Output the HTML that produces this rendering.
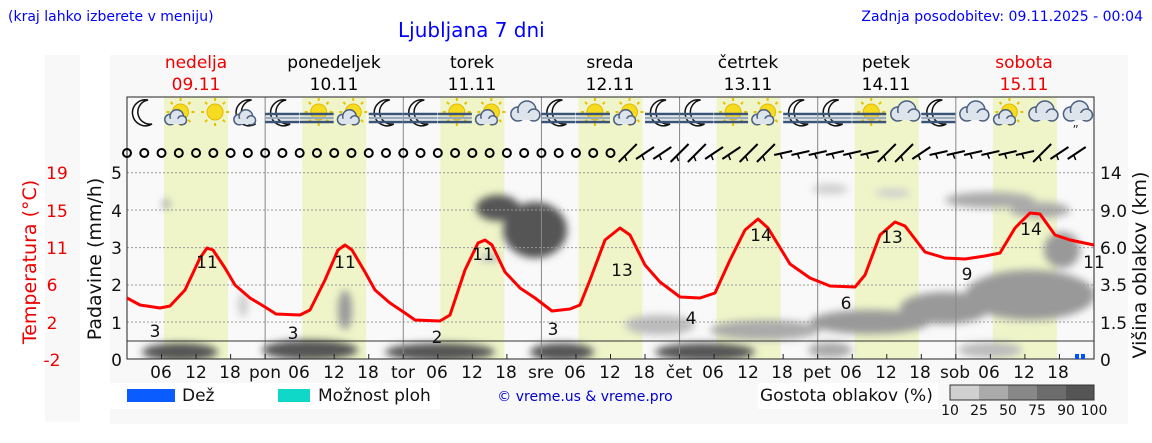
<!DOCTYPE html>
<html><head><meta charset="utf-8"><style>
html,body{margin:0;padding:0;background:#fff;}
svg{display:block;font-family:"DejaVu Sans","Liberation Sans",sans-serif;}
</style></head><body>
<svg id="s" width="1152" height="443" viewBox="0 0 1152 443" xmlns="http://www.w3.org/2000/svg">
<defs>
<filter id="b" x="-50%" y="-50%" width="200%" height="200%"><feGaussianBlur stdDeviation="4"/></filter>
<clipPath id="pc"><rect x="127" y="170" width="967" height="189"/></clipPath>
</defs>
<rect x="45" y="55" width="35" height="367" fill="#f8f8f8"/>
<rect x="110" y="55" width="1018" height="369" fill="#f8f8f8"/>
<rect x="127" y="97" width="967" height="262" fill="#f9f9f9"/>
<g id="bands" fill="#eff5c9"></g>
<g id="clouds" clip-path="url(#pc)">
 <g filter="url(#b)" fill="#555">
  <ellipse cx="180" cy="352" rx="38" ry="9"/>
  <ellipse cx="310" cy="350" rx="48" ry="10"/>
  <ellipse cx="440" cy="352" rx="55" ry="9"/>
  <ellipse cx="562" cy="352" rx="32" ry="9"/>
  <ellipse cx="705" cy="352" rx="50" ry="9"/>
  <ellipse cx="535" cy="230" rx="32" ry="28"/>
  <ellipse cx="498" cy="208" rx="22" ry="13"/>
  <ellipse cx="490" cy="258" rx="10" ry="4" fill="#bbb"/>
 </g>
 <g filter="url(#b)" fill="#999">
  <ellipse cx="660" cy="325" rx="35" ry="10" fill="#bbb"/>
  <ellipse cx="765" cy="330" rx="55" ry="10" fill="#aaa"/>
  <ellipse cx="870" cy="322" rx="60" ry="12"/>
  <ellipse cx="945" cy="308" rx="45" ry="16"/>
  <ellipse cx="1030" cy="295" rx="65" ry="25"/>
  <ellipse cx="1062" cy="250" rx="18" ry="18"/>
  <ellipse cx="1040" cy="210" rx="30" ry="8" fill="#aaa"/>
  <ellipse cx="990" cy="200" rx="45" ry="8" fill="#aaa"/>
  <ellipse cx="830" cy="189" rx="18" ry="5" fill="#ccc"/>
  <ellipse cx="893" cy="193" rx="18" ry="4" fill="#ccc"/>
  <ellipse cx="990" cy="350" rx="32" ry="8" fill="#bbb"/>
  <ellipse cx="830" cy="350" rx="22" ry="8" fill="#aaa"/>
  <ellipse cx="345" cy="310" rx="7" ry="20" fill="#999"/>
  <ellipse cx="243" cy="305" rx="5" ry="12" fill="#ccc"/>
  <ellipse cx="166" cy="204" rx="4" ry="5" fill="#aaa"/>
 </g>
</g>
<g id="grid" stroke="#999" stroke-dasharray="2,2" stroke-width="1"></g>
<g stroke="#888" stroke-width="1" id="days"></g>
<line x1="127" y1="341" x2="1094" y2="341" stroke="#333"/>
<rect x="127" y="97" width="967" height="262" fill="none" stroke="#222"/>
<g id="icons"></g>
<g id="wind" stroke="#000" fill="none" stroke-width="2"></g>
<g id="ticks" stroke="#222"></g>
<path fill="none" stroke="#f00" stroke-width="3" stroke-linejoin="round" d="M127,298 L140,305 L160,308 L170,306 L185,290 L200,258 L207,248 L213,250 L225,268 L235,285 L250,298 L265,307 L276,314 L300,315 L310,310 L325,280 L338,250 L345,245 L352,250 L365,272 L375,290 L390,303 L405,313 L415,320 L440,321 L450,315 L465,270 L478,243 L485,240 L492,245 L505,272 L520,288 L535,298 L552,311 L570,309 L580,305 L590,280 L605,240 L620,228 L630,235 L645,265 L660,282 L680,297 L700,298 L715,293 L730,260 L745,230 L758,219 L768,228 L790,264 L810,278 L830,286 L855,287 L865,275 L880,235 L895,222 L905,226 L925,252 L945,258 L965,259 L985,256 L1000,253 L1015,228 L1030,213 L1040,214 L1055,235 L1070,240 L1094,245"/>
<g font-size="17" fill="#111" text-anchor="middle">
<text x="155" y="337">3</text><text x="207" y="268">11</text><text x="293" y="339">3</text><text x="345" y="268">11</text>
<text x="437" y="343">2</text><text x="483" y="260">11</text><text x="553" y="335">3</text><text x="622" y="276">13</text>
<text x="691" y="324">4</text><text x="761" y="241">14</text><text x="846" y="309">6</text><text x="892" y="243">13</text>
<text x="967" y="280">9</text><text x="1031" y="235">14</text><text x="1094" y="268">11</text>
</g>
<rect x="1075" y="354" width="4" height="5" fill="#0050ff"/><rect x="1081" y="354" width="4" height="5" fill="#0050ff"/>
<g font-size="14" fill="#00f">
<text x="8" y="21">(kraj lahko izberete v meniju)</text>
<text x="1143" y="21" text-anchor="end">Zadnja posodobitev: 09.11.2025 - 00:04</text>
<text x="398" y="37" font-size="20">Ljubljana 7 dni</text>
</g>
<g font-size="17" text-anchor="middle">
<text x="196" y="68" fill="#e00">nedelja</text><text x="196" y="90" fill="#e00">09.11</text>
<text x="334" y="68">ponedeljek</text><text x="334" y="90">10.11</text>
<text x="472" y="68">torek</text><text x="472" y="90">11.11</text>
<text x="610" y="68">sreda</text><text x="610" y="90">12.11</text>
<text x="748" y="68">četrtek</text><text x="748" y="90">13.11</text>
<text x="886" y="68">petek</text><text x="886" y="90">14.11</text>
<text x="1024" y="68" fill="#e00">sobota</text><text x="1024" y="90" fill="#e00">15.11</text>
</g>
<g font-size="17" fill="#e00" text-anchor="middle">
<text x="57" y="179">19</text><text x="57" y="217">15</text><text x="57" y="254">11</text><text x="52" y="291">6</text><text x="52" y="329">2</text><text x="52" y="366">-2</text>
<text transform="translate(36,262) rotate(-90)" font-size="19">Temperatura (°C)</text>
</g>
<g font-size="17" fill="#111" text-anchor="end">
<text x="122" y="179">5</text><text x="122" y="217">4</text><text x="122" y="254">3</text><text x="122" y="291">2</text><text x="122" y="329">1</text><text x="122" y="366">0</text>
</g>
<text transform="translate(101,259) rotate(-90)" font-size="19" text-anchor="middle" fill="#111">Padavine (mm/h)</text>
<g font-size="17" fill="#111">
<text x="1100" y="179">14</text><text x="1100" y="217">9.0</text><text x="1100" y="254">6.0</text><text x="1100" y="291">3.5</text><text x="1100" y="329">1.5</text><text x="1100" y="366">0</text>
</g>
<text transform="translate(1146,265) rotate(-90)" font-size="19" text-anchor="middle" fill="#111">Višina oblakov (km)</text>
<g font-size="17" fill="#111" text-anchor="middle">
<text x="161" y="378">06</text><text x="196" y="378">12</text><text x="230" y="378">18</text><text x="265" y="378">pon</text>
<text x="299" y="378">06</text><text x="334" y="378">12</text><text x="368" y="378">18</text><text x="403" y="378">tor</text>
<text x="437" y="378">06</text><text x="472" y="378">12</text><text x="506" y="378">18</text><text x="541" y="378">sre</text>
<text x="575" y="378">06</text><text x="610" y="378">12</text><text x="644" y="378">18</text><text x="679" y="378">čet</text>
<text x="713" y="378">06</text><text x="748" y="378">12</text><text x="782" y="378">18</text><text x="817" y="378">pet</text>
<text x="851" y="378">06</text><text x="886" y="378">12</text><text x="920" y="378">18</text><text x="955" y="378">sob</text>
<text x="989" y="378">06</text><text x="1024" y="378">12</text><text x="1058" y="378">18</text>
</g>
<rect x="110" y="383" width="160" height="26" fill="#fff"/>
<rect x="127" y="389" width="48" height="13" fill="#0a5cff"/>
<text x="182" y="401" font-size="17" fill="#111">Dež</text>
<rect x="270" y="383" width="170" height="26" fill="#fff"/>
<rect x="278" y="389" width="32" height="13" fill="#10d8c8"/>
<text x="318" y="401" font-size="17" fill="#111">Možnost ploh</text>
<text x="585" y="401" font-size="14" fill="#00c" text-anchor="middle">© vreme.us &amp; vreme.pro</text>
<rect x="758" y="383" width="180" height="26" fill="#fff"/>
<text x="760" y="401" font-size="17" fill="#111">Gostota oblakov (%)</text>
<rect x="950" y="385" width="29" height="15" fill="#d0d0d0"/><rect x="979" y="385" width="29" height="15" fill="#aaa"/><rect x="1008" y="385" width="29" height="15" fill="#888"/><rect x="1037" y="385" width="29" height="15" fill="#6c6c6c"/><rect x="1066" y="385" width="28" height="15" fill="#555"/>
<rect x="950" y="385" width="144" height="15" fill="none" stroke="#333"/>
<g font-size="14" fill="#111" text-anchor="middle">
<text x="950" y="415">10</text><text x="979" y="415">25</text><text x="1008" y="415">50</text><text x="1037" y="415">75</text><text x="1066" y="415">90</text><text x="1094" y="415">100</text>
</g>
<script>
var NS="http://www.w3.org/2000/svg",D=138.14,X0=127;
function el(p,t,a){var e=document.createElementNS(NS,t);for(var k in a)e.setAttribute(k,a[k]);document.getElementById(p).appendChild(e);return e;}
for(var d=0;d<7;d++){el("bands","rect",{x:X0+d*D+37,y:97,width:64,height:262});if(d>0)el("days","line",{x1:X0+d*D,y1:97,x2:X0+d*D,y2:359});}
[172.7,210,247.6,285,322].forEach(function(y){el("grid","line",{x1:127,y1:y,x2:1094,y2:y});});
for(var i=1;i<28;i++){var x=X0+i*D/4;el("ticks","line",{x1:x,y1:359,x2:x,y2:354});}
for(var i=0;i<56;i++){var x=X0+i*D/8;if(i<29)el("wind","circle",{cx:x,cy:153,r:4});else{var dy=(i>=47&&i<=52)||(i>=38&&i<=43)?2:(i%4<2?9:6);el("wind","line",{x1:x-9,y1:153+dy,x2:x+9,y2:153-dy});el("wind","line",{x1:x-3,y1:153+dy/3,x2:x-1,y2:153+dy/3+5,"stroke-width":1.5});}}
var ic="MS,SC,S,MC,MF,SF,SC,MF,MF,SF,SC,C,MF,SF,SC,MF,MF,SF,SC,MF,MF,SF,C,MF,C,SC,C,CR".split(",");
ic.forEach(function(t,i){var x=X0+17+i*D/4,y=112;
 if(t[0]=="S"){el("icons","circle",{cx:x+2,cy:y,r:8,fill:"#f5dc20",stroke:"#e8b800"});for(var k=0;k<8;k++){var an=k*Math.PI/4;el("icons","line",{x1:x+2+11*Math.cos(an),y1:y+11*Math.sin(an),x2:x+2+14*Math.cos(an),y2:y+14*Math.sin(an),stroke:"#e8c000","stroke-width":2});}}
 if(t[0]=="M"){el("icons","path",{d:"M"+(x+4)+","+(y-12)+" a13,13 0 1,0 4,24 a10,10 0 1,1 -4,-24z",fill:"#fff",stroke:"#111","stroke-width":1.5});}
 if(t.indexOf("C")>=0){var cx=t[0]=="C"?x:x-4,cy=t[0]=="C"?y:y+6,s=t[0]=="C"?1:0.75;
  [[-6,2,7],[3,-2,9],[10,3,6]].forEach(function(c){el("icons","circle",{cx:cx+c[0]*s,cy:cy+c[1]*s,r:c[2]*s,fill:"#dde4ec",stroke:"#4a6080","stroke-width":1.5});});
  el("icons","rect",{x:cx-8*s,y:cy+1*s,width:18*s,height:7*s,fill:"#dde4ec"});}
 if(t=="CR")el("icons","text",{x:x-4,y:y+22,"font-size":12,fill:"#333"}).textContent="\u201D";
 if(t[1]=="F"){[0,4,8].forEach(function(o){el("icons","line",{x1:x-17,y1:y+2+o,x2:x+17,y2:y+2+o,stroke:o==4?"#9ab":"#3a5478","stroke-width":2.5});});}
});
</script>
</svg>
</body></html>
